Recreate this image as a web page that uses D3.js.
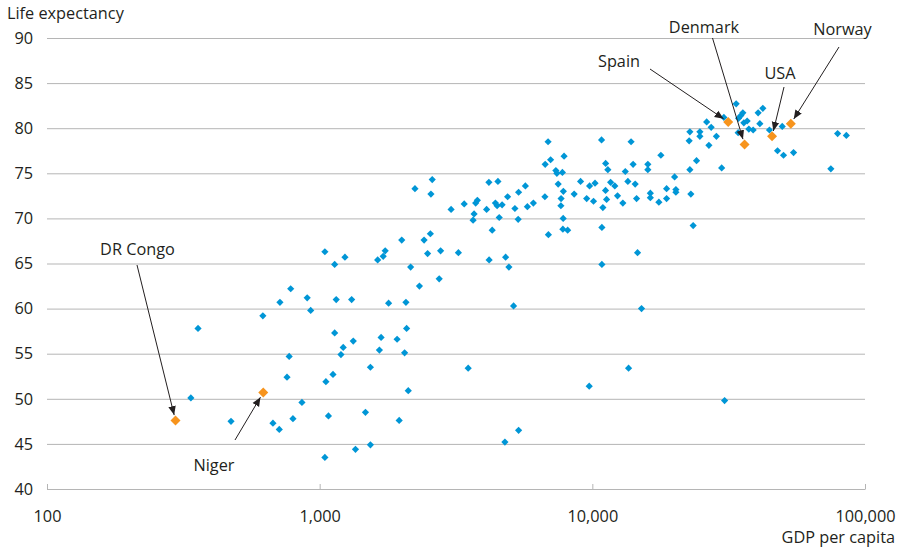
<!DOCTYPE html>
<html>
<head>
<meta charset="utf-8">
<script src="https://cdn.jsdelivr.net/npm/d3@7"></script>
<style>
  html, body { margin: 0; padding: 0; background: #fff; }
  svg text { font-family: "Open Sans", "Noto Sans", sans-serif; fill: #231f20; }
</style>
</head>
<body>
<svg id="chart" width="900" height="551"></svg>
<script>
// GDP per capita (US$) and life expectancy (years) by country
const gdp = [
  337, 358, 473, 619, 674, 711, 715, 759, 773, 783, 798, 861, 900, 927,
  1045, 1054, 1045, 1077, 1119, 1135, 1135, 1150, 1197, 1220, 1238, 1310, 1328, 1353,
  1472, 1535, 1535, 1632, 1656, 1680, 1710, 1739, 1790, 1923, 1957, 2000, 2049, 2072,
  2084, 2113, 2156, 2236, 2322, 2415, 2488, 2547, 2559, 2587, 2744, 2777, 3034, 3227,
  3389, 3505, 3653, 3684, 3734, 3788, 4095, 4175, 4183, 4293, 4411, 4475, 4506, 4555,
  4667, 4779, 4808, 4889, 4943, 5142, 5200, 5346, 5365, 5365, 5681, 5778, 6078, 6699,
  6716, 6882, 6900, 7030, 7350, 7413, 7495, 7681, 7668, 7766, 7818, 7830, 7798, 7877,
  8120, 8578, 9054, 9534, 9740, 9770, 10100, 10230, 10810, 10840, 10840, 10930, 11190, 11180,
  11280, 11400, 11670, 12090, 12370, 12940, 13210, 13500, 13580, 13870, 14110, 14360, 14530, 14650,
  15150, 15980, 15980, 16320, 16320, 17540, 17840, 18720, 18720, 20030, 20250, 20250, 22650, 22790,
  22790, 22980, 23430, 24110, 24800, 24800, 26260, 26760, 27280, 28510, 29810, 30370, 30550, 33690,
  34260, 34380, 35050, 35650, 35950, 36970, 37500, 38890, 40560, 41150, 42200, 44620, 49710, 47770,
  50250, 54700, 74950, 79360, 85430
];
const lifeExp = [
  50.1, 57.8, 47.5, 59.2, 47.3, 46.6, 60.7, 52.4, 54.7, 62.2, 47.8, 49.6, 61.2, 59.8,
  66.3, 51.9, 43.5, 48.1, 52.7, 64.9, 57.3, 61.0, 54.9, 55.7, 65.7, 61.0, 56.4, 44.4,
  48.5, 53.5, 44.9, 65.4, 55.4, 56.8, 65.8, 66.4, 60.6, 56.6, 47.6, 67.6, 55.1, 60.7,
  57.8, 50.9, 64.6, 73.3, 62.5, 67.6, 66.1, 68.3, 72.7, 74.3, 63.3, 66.4, 71.0, 66.2,
  71.6, 53.4, 69.8, 70.5, 71.7, 72.0, 71.0, 74.0, 65.4, 68.7, 71.7, 71.4, 74.1, 70.1,
  71.5, 45.2, 65.7, 72.4, 64.6, 60.3, 71.1, 69.9, 72.9, 46.5, 73.6, 71.3, 71.7, 72.4,
  76.0, 78.5, 68.2, 76.5, 75.3, 75.0, 73.8, 72.2, 71.4, 75.1, 70.0, 73.0, 68.8, 76.9,
  68.7, 72.7, 74.1, 72.2, 51.4, 73.6, 71.9, 73.9, 78.7, 69.0, 64.9, 71.2, 76.1, 73.1,
  72.1, 75.4, 74.0, 73.6, 72.5, 71.7, 75.2, 74.1, 53.4, 78.5, 76.0, 73.8, 72.2, 66.2,
  60.0, 76.0, 75.4, 72.8, 72.3, 71.8, 77.0, 73.3, 72.2, 74.6, 73.2, 72.9, 78.6, 79.6,
  75.4, 72.7, 69.2, 76.4, 79.6, 79.1, 80.7, 78.1, 80.1, 79.1, 75.6, 81.2, 49.8, 82.7,
  79.5, 81.1, 81.4, 81.7, 80.6, 80.8, 79.9, 79.8, 81.7, 80.5, 82.2, 79.8, 80.2, 77.5,
  77.0, 77.3, 75.5, 79.4, 79.2
];

// Highlighted countries
const hlNames = ["DR Congo", "Niger", "Spain", "Denmark", "USA", "Norway"];
const hlGdp   = [296, 621, 31490, 36160, 45630, 53460];
const hlLife  = [47.6, 50.7, 80.7, 78.2, 79.1, 80.5];

// Axis ticks
const xTicks = [100, 1000, 10000, 100000];
const yTicks = [40, 45, 50, 55, 60, 65, 70, 75, 80, 85, 90];

// Callout label placement (label anchor and leader-line start)
const callouts = [
  { name: "DR Congo", tx: 137.5, ty: 255, sx: 137, sy: 265 },
  { name: "Niger",    tx: 214,   ty: 471, sx: 235, sy: 440 },
  { name: "Spain",    tx: 619,   ty: 67,  sx: 650, sy: 69 },
  { name: "Denmark",  tx: 704,   ty: 33,  sx: 712.5, sy: 38 },
  { name: "USA",      tx: 780,   ty: 79,  sx: 784, sy: 87 },
  { name: "Norway",   tx: 842.5, ty: 35,  sx: 839, sy: 47 }
];

const svg = d3.select("#chart");
const plotLeft = 47, plotRight = 865, plotTop = 38, plotBottom = 489;
const fontSize = 16.3;

const x = d3.scaleLog().domain([100, 100000]).range([plotLeft, plotRight]);
const y = d3.scaleLinear().domain([40, 90]).range([plotBottom, plotTop]);

const gridColor = "#b5b5b5";

// Horizontal gridlines with left tick labels
const yAxis = svg.append("g")
  .attr("transform", `translate(${plotLeft},0)`)
  .call(d3.axisLeft(y).tickValues(yTicks).tickSize(-(plotRight - plotLeft)).tickPadding(14).tickFormat(d3.format("d")));
yAxis.select(".domain").remove();
yAxis.selectAll(".tick line").attr("stroke", gridColor).attr("stroke-width", 1);
yAxis.selectAll(".tick text")
  .attr("font-size", fontSize).attr("fill", "#231f20")
  .style("font-family", '"Open Sans", sans-serif');

// Bottom axis: inward ticks at each decade
const xAxis = svg.append("g")
  .attr("transform", `translate(0,${plotBottom})`)
  .call(d3.axisBottom(x).tickValues(xTicks).tickSizeInner(-5).tickSizeOuter(0).tickPadding(22).tickFormat(d3.format(",")));
xAxis.select(".domain").attr("stroke", gridColor);
xAxis.selectAll(".tick line").attr("stroke", gridColor);
xAxis.selectAll(".tick text")
  .attr("font-size", fontSize).attr("fill", "#231f20").attr("dy", "0")
  .attr("y", 33)
  .style("font-family", '"Open Sans", sans-serif');

// Axis titles
svg.append("text").attr("x", 7).attr("y", 19).attr("font-size", fontSize).text("Life expectancy");
svg.append("text").attr("x", 895).attr("y", 543).attr("text-anchor", "end").attr("font-size", fontSize).text("GDP per capita");

// Diamond marker path
const diamond = r => `M0,${-r}L${r},0L0,${r}L${-r},0Z`;

// All countries
svg.append("g").selectAll("path")
  .data(gdp.map((g, i) => [g, lifeExp[i]]))
  .join("path")
  .attr("d", diamond(3.6))
  .attr("transform", d => `translate(${x(d[0])},${y(d[1])})`)
  .attr("fill", "#0096d6");

// Highlighted countries
const hl = hlNames.map((n, i) => ({ name: n, g: hlGdp[i], l: hlLife[i] }));
svg.append("g").selectAll("path")
  .data(hl)
  .join("path")
  .attr("d", diamond(5))
  .attr("transform", d => `translate(${x(d.g)},${y(d.l)})`)
  .attr("fill", "#f7941d");

// Arrowhead
svg.append("defs").append("marker")
  .attr("id", "arrow")
  .attr("viewBox", "0 0 10 10")
  .attr("refX", 10).attr("refY", 5)
  .attr("markerWidth", 9).attr("markerHeight", 9)
  .attr("markerUnits", "userSpaceOnUse")
  .attr("orient", "auto")
  .append("path").attr("d", "M0,0.8L10,5L0,9.2Z").attr("fill", "#231f20");

// Callouts: label plus leader arrow to the country's marker
const ann = svg.append("g");
callouts.forEach(c => {
  const p = hl.find(h => h.name === c.name);
  const px = x(p.g), py = y(p.l);
  const dx = c.sx - px, dy = c.sy - py;
  const len = Math.hypot(dx, dy);
  const gap = 5.5;
  ann.append("line")
    .attr("x1", c.sx).attr("y1", c.sy)
    .attr("x2", px + dx / len * gap).attr("y2", py + dy / len * gap)
    .attr("stroke", "#231f20").attr("stroke-width", 1)
    .attr("marker-end", "url(#arrow)");
  ann.append("text")
    .attr("x", c.tx).attr("y", c.ty)
    .attr("text-anchor", "middle").attr("font-size", fontSize)
    .text(c.name);
});
</script>
</body>
</html>
